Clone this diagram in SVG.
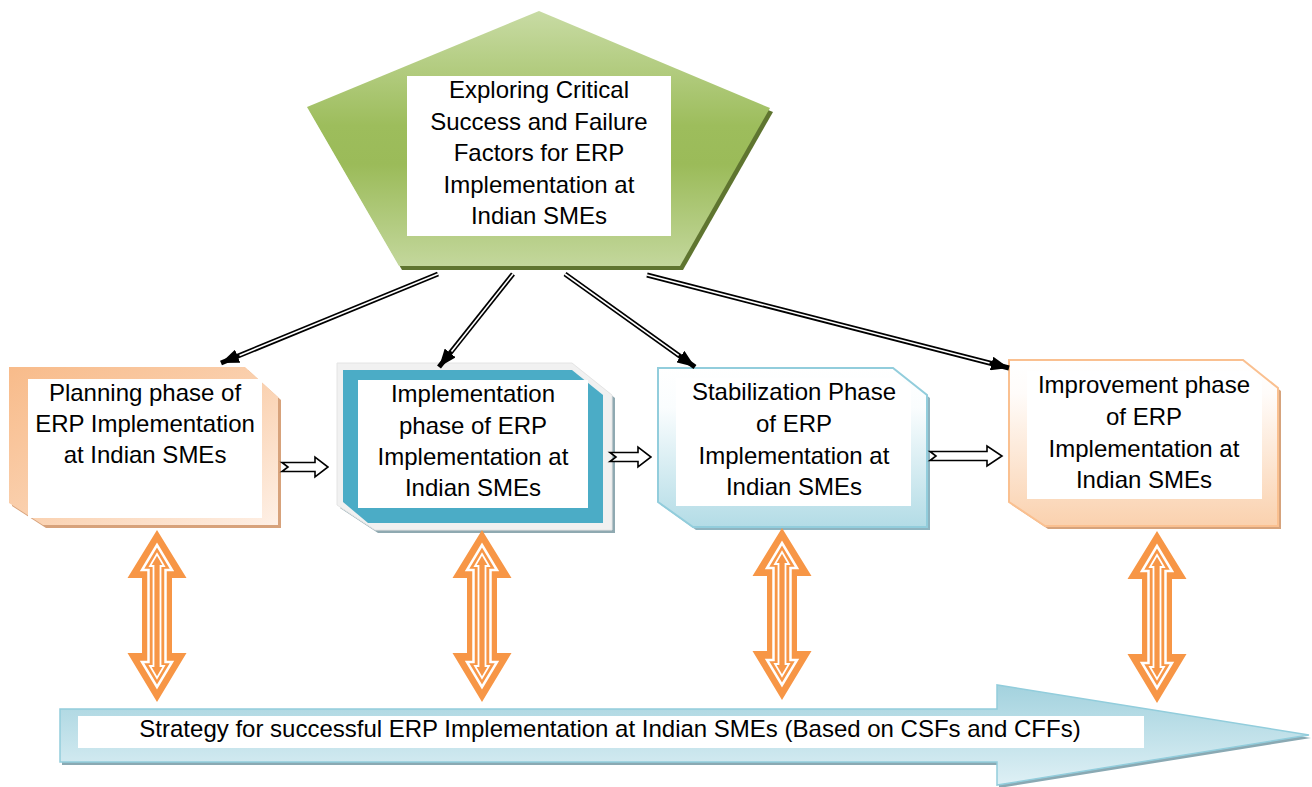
<svg xmlns="http://www.w3.org/2000/svg" width="1312" height="787" viewBox="0 0 1312 787">
<defs>
<style>
text{font-family:"Liberation Sans",Arial,sans-serif;font-size:24px;fill:#000;text-anchor:middle}
.dl{stroke:#000;stroke-width:5;fill:none}
.dlw{stroke:#fff;stroke-width:1.6;fill:none}
.harr{fill:#fff;stroke:#000;stroke-width:1.6;stroke-linejoin:miter}
.org{fill:#F79646}
.ow{fill:none;stroke:#fff;stroke-width:2.5}
.ow2{fill:none;stroke:#fff;stroke-width:1.8}
.inner{fill:#fff}
</style>
<linearGradient id="gPent" x1="0" y1="0" x2="0" y2="1">
<stop offset="0" stop-color="#C8DBA4"/>
<stop offset="0.45" stop-color="#9DBD5C"/>
<stop offset="0.6" stop-color="#9BBB59"/>
<stop offset="1" stop-color="#C3D79C"/>
</linearGradient>
<linearGradient id="gB1" x1="0" y1="0" x2="1" y2="1">
<stop offset="0" stop-color="#F8BB8A"/>
<stop offset="0.5" stop-color="#FAD0AE"/>
<stop offset="1" stop-color="#FEF0E6"/>
</linearGradient>
<linearGradient id="gB3" x1="0" y1="0" x2="0" y2="1">
<stop offset="0" stop-color="#FFFFFF"/>
<stop offset="0.25" stop-color="#FAFDFE"/>
<stop offset="1" stop-color="#B3DCE6"/>
</linearGradient>
<linearGradient id="gB4" x1="0" y1="0" x2="0" y2="1">
<stop offset="0" stop-color="#FFFFFF"/>
<stop offset="0.2" stop-color="#FFFCFA"/>
<stop offset="1" stop-color="#FAD1AE"/>
</linearGradient>
<linearGradient id="gBig" x1="0" y1="0" x2="0" y2="1">
<stop offset="0" stop-color="#A3D2DE"/>
<stop offset="1" stop-color="#DEF0F5"/>
</linearGradient>
<marker id="ah" markerUnits="userSpaceOnUse" markerWidth="18" markerHeight="14" viewBox="0 0 18 14" refX="18" refY="7" orient="auto">
<path d="M0,0 L18,7 L0,14 z" fill="#000"/>
</marker>
<g id="dbl">
<polygon class="org" points="0,0 29.5,48 15,48 15,123 29.5,123 0,172 -29.5,123 -15,123 -15,48 -29.5,48"/>
<polygon class="ow" points="0,15 15,40 8.5,40 8.5,132 15,132 0,157 -15,132 -8.5,132 -8.5,40 -15,40"/>
<polygon class="ow2" points="0,24 7,36 3.5,36 3.5,136 7,136 0,148 -7,136 -3.5,136 -3.5,36 -7,36"/>
</g>
</defs>
<rect width="1312" height="787" fill="#fff"/>

<g id="bottom-strategy">
<polygon points="60,709 997,709 997,685 1309,735 997,785 997,762 60,762" fill="#8AA9B3" transform="translate(2,3)"/>
<polygon points="60,709 997,709 997,685 1309,735 997,785 997,762 60,762" fill="url(#gBig)" stroke="#92CDDC" stroke-width="1.5"/>
<rect x="78" y="716" width="1066" height="32" class="inner"/>
<text x="610" y="737">Strategy for successful ERP Implementation at Indian SMEs (Based on CSFs and CFFs)</text>
</g>

<g id="top-pentagon">
<polygon points="539,11 770,108 680,266 399,266 307,107" fill="#5F7530" transform="translate(3,4)"/>
<polygon points="539,11 770,108 680,266 399,266 307,107" fill="url(#gPent)"/>
<rect x="407" y="76" width="264" height="160" class="inner"/>
<text x="539" y="98">Exploring Critical</text>
<text x="539" y="129.5">Success and Failure</text>
<text x="539" y="161">Factors for ERP</text>
<text x="539" y="192.5">Implementation at</text>
<text x="539" y="224">Indian SMEs</text>
</g>

<g id="planning">
<polygon points="9,367 245,367 278,397 278,525 43,525 9,503" fill="#D7A27B" transform="translate(3,3)"/>
<polygon points="9,367 245,367 278,397 278,525 43,525 9,503" fill="url(#gB1)"/>
<rect x="28" y="379" width="234" height="139" class="inner"/>
<text x="145" y="401">Planning phase of</text>
<text x="145" y="432">ERP Implementation</text>
<text x="145" y="463">at Indian SMEs</text>
</g>

<g id="implementation">
<polygon points="337,363 572,363 612,395 612,530 375,530 337,505" fill="#8FA9B1" transform="translate(3,3)"/>
<polygon points="337,363 572,363 612,395 612,530 375,530 337,505" fill="#F1F1F1" stroke="#E4E4E4" stroke-width="1"/>
<polygon points="343,370 572,370 603,395 603,523 368,523 343,502" fill="#4BACC6"/>
<rect x="358" y="380" width="230" height="128" class="inner"/>
<text x="473" y="402">Implementation</text>
<text x="473" y="434">phase of ERP</text>
<text x="473" y="465">Implementation at</text>
<text x="473" y="496">Indian SMEs</text>
</g>

<g id="stabilization">
<polygon points="658,368 893,368 927,395 927,527 693,527 658,502" fill="#8EB4C0" transform="translate(3,3)"/>
<polygon points="658,368 893,368 927,395 927,527 693,527 658,502" fill="url(#gB3)" stroke="#92CDDC" stroke-width="2"/>
<polygon points="676,378 900,378 911,387 911,506 676,506" class="inner"/>
<text x="794" y="400">Stabilization Phase</text>
<text x="794" y="432">of ERP</text>
<text x="794" y="464">Implementation at</text>
<text x="794" y="495">Indian SMEs</text>
</g>

<g id="improvement">
<polygon points="1009,360 1243,360 1278,388 1278,526 1045,526 1009,502" fill="#D6A37C" transform="translate(3,3)"/>
<polygon points="1009,360 1243,360 1278,388 1278,526 1045,526 1009,502" fill="url(#gB4)" stroke="#FAC090" stroke-width="2"/>
<polygon points="1027,371 1251,371 1262,380 1262,499 1027,499" class="inner"/>
<text x="1144" y="393">Improvement phase</text>
<text x="1144" y="425">of ERP</text>
<text x="1144" y="457">Implementation at</text>
<text x="1144" y="488">Indian SMEs</text>
</g>

<g id="connectors">
<line class="dl" x1="438" y1="274" x2="221" y2="363" marker-end="url(#ah)"/>
<line class="dlw" x1="438" y1="274" x2="239.5" y2="355.4"/>
<line class="dl" x1="513" y1="274" x2="439" y2="367" marker-end="url(#ah)"/>
<line class="dlw" x1="513" y1="274" x2="451.5" y2="351.4"/>
<line class="dl" x1="565" y1="274" x2="695" y2="367" marker-end="url(#ah)"/>
<line class="dlw" x1="565" y1="274" x2="678.7" y2="355.4"/>
<line class="dl" x1="647" y1="275" x2="1009" y2="368" marker-end="url(#ah)"/>
<line class="dlw" x1="647" y1="275" x2="989.6" y2="363"/>

<polygon class="harr" points="282,462.5 315,462.5 315,457 328,467 315,477 315,471.5 282,471.5 288,467"/>
<polygon class="harr" points="610,452.5 638,452.5 638,447 651,457 638,467 638,461.5 610,461.5 616,457"/>
<polygon class="harr" points="930,451.5 987,451.5 987,446 1002,456 987,466 987,460.5 930,460.5 936,456"/>

<use href="#dbl" transform="translate(157,530)"/>
<use href="#dbl" transform="translate(482,530)"/>
<use href="#dbl" transform="translate(782,528)"/>
<use href="#dbl" transform="translate(1157,531)"/>
</g>
</svg>
